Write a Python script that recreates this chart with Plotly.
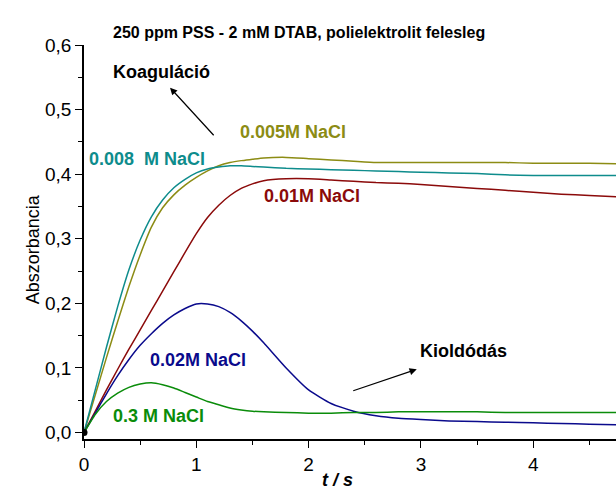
import plotly.graph_objects as go

# time axis (s)
t = [0, 0.1, 0.2, 0.3, 0.4, 0.5, 0.6, 0.7, 0.8, 0.9, 1.0, 1.1, 1.2, 1.3, 1.4, 1.5, 1.6,
     1.8, 2.0, 2.2, 2.4, 2.6, 2.8, 3.0, 3.25, 3.5, 3.75, 4.0, 4.25, 4.5, 4.75]

nacl_0005 = [0, 0.058, 0.116, 0.172, 0.226, 0.275, 0.318, 0.348, 0.368, 0.383, 0.395, 0.405,
             0.413, 0.418, 0.421, 0.423, 0.425, 0.426, 0.424, 0.422, 0.42, 0.418, 0.418,
             0.418, 0.418, 0.418, 0.418, 0.417, 0.417, 0.417, 0.416]
nacl_0008 = [0, 0.066, 0.132, 0.195, 0.252, 0.298, 0.334, 0.36, 0.379, 0.392, 0.402, 0.408,
             0.411, 0.413, 0.413, 0.412, 0.411, 0.409, 0.408, 0.407, 0.406, 0.405, 0.404,
             0.403, 0.402, 0.401, 0.399, 0.398, 0.398, 0.398, 0.398]
nacl_001 = [0, 0.033, 0.066, 0.098, 0.129, 0.159, 0.189, 0.219, 0.249, 0.279, 0.308, 0.333,
            0.352, 0.367, 0.378, 0.385, 0.39, 0.393, 0.393, 0.391, 0.389, 0.387, 0.386,
            0.384, 0.381, 0.378, 0.375, 0.372, 0.369, 0.367, 0.365]
nacl_002 = [0, 0.03, 0.06, 0.088, 0.113, 0.135, 0.153, 0.169, 0.182, 0.192, 0.199, 0.199,
            0.195, 0.186, 0.173, 0.157, 0.139, 0.1, 0.066, 0.045, 0.033, 0.026, 0.022,
            0.02, 0.018, 0.017, 0.016, 0.015, 0.014, 0.013, 0.012]
nacl_03 = [0, 0.028, 0.048, 0.061, 0.07, 0.075, 0.077, 0.074, 0.069, 0.062, 0.055, 0.048,
           0.043, 0.038, 0.035, 0.033, 0.032, 0.031, 0.03, 0.03, 0.031, 0.031, 0.032,
           0.032, 0.032, 0.032, 0.031, 0.031, 0.031, 0.031, 0.031]

series = [
    ("0.005M NaCl", nacl_0005, "#8C8C14"),
    ("0.008  M NaCl", nacl_0008, "#0E8C8C"),
    ("0.01M NaCl", nacl_001, "#8B0A0A"),
    ("0.02M NaCl", nacl_002, "#0A0A8C"),
    ("0.3 M NaCl", nacl_03, "#0A8C0A"),
]

# label positions (data coords)
labels = [
    ("0.005M NaCl", 1.86, 0.465, "#8C8C14"),
    ("0.008  M NaCl", 0.564, 0.424, "#0E8C8C"),
    ("0.01M NaCl", 2.028, 0.366, "#8B0A0A"),
    ("0.02M NaCl", 1.015, 0.112, "#0A0A8C"),
    ("0.3 M NaCl", 0.663, 0.025, "#0A8C0A"),
    ("Koaguláció", 0.688, 0.558, "black"),
    ("Kioldódás", 3.375, 0.127, "black"),
]
arrows = [  # head x, head y, tail x, tail y
    (0.766, 0.534, 1.167, 0.458),
    (2.963, 0.098, 2.384, 0.064),
]

FONT = "Arial, Liberation Sans, sans-serif"

fig = go.Figure()
for name, ys, col in series:
    fig.add_trace(go.Scatter(x=t, y=ys, mode="lines", name=name,
                             line=dict(color=col, width=1.5, shape="spline", smoothing=0.5),
                             showlegend=False))
fig.add_trace(go.Scatter(x=[t[0]], y=[nacl_0005[0]], mode="markers",
                         marker=dict(color="black", size=7), showlegend=False))

ann = []
for txt, x, y, col in labels:
    ann.append(dict(x=x, y=y, xref="x", yref="y", text=txt, showarrow=False,
                    font=dict(family=FONT, size=18, color=col, weight="bold")))
for hx, hy, tx, ty in arrows:
    ann.append(dict(x=hx, y=hy, ax=tx, ay=ty, xref="x", yref="y", axref="x", ayref="y",
                    text="", showarrow=True, arrowhead=2, arrowsize=1.2, arrowwidth=1.2,
                    arrowcolor="black"))
ann.append(dict(x=0.404, y=1.0576, xref="paper", yref="paper", showarrow=False,
                text="250 ppm PSS - 2 mM DTAB, polielektrolit felesleg",
                font=dict(family=FONT, size=16, color="black", weight="bold")))
ann.append(dict(x=0.4756, y=-0.134, xref="paper", yref="paper", showarrow=False,
                text="<i>t / s</i>",
                font=dict(family=FONT, size=18, color="black", weight="bold")))
ann.append(dict(x=-0.118, y=0.482, xref="paper", yref="paper", showarrow=False,
                text="Abszorbancia", textangle=-90,
                font=dict(family=FONT, size=18, color="black")))

fig.update_layout(
    width=616, height=501,
    margin=dict(l=84, r=0, t=45, b=62),
    paper_bgcolor="white", plot_bgcolor="white",
    separators=",.",
    annotations=ann,
    xaxis=dict(range=[0, 4.737], tickmode="linear", tick0=0, dtick=1,
               ticks="outside", ticklen=7, tickwidth=1.2, tickcolor="black",
               showline=True, linecolor="black", linewidth=1.5, showgrid=False,
               zeroline=False, tickfont=dict(family=FONT, size=19, color="black"),
               minor=dict(ticks="outside", ticklen=4, tickwidth=1.2, tickcolor="black",
                          dtick=0.5, showgrid=False)),
    yaxis=dict(range=[-0.01, 0.6], tickmode="linear", tick0=0, dtick=0.1,
               tickformat=".1f",
               ticks="outside", ticklen=7, tickwidth=1.2, tickcolor="black",
               showline=True, linecolor="black", linewidth=1.5, showgrid=False,
               zeroline=False, tickfont=dict(family=FONT, size=19, color="black"),
               minor=dict(ticks="outside", ticklen=4, tickwidth=1.2, tickcolor="black",
                          dtick=0.05, showgrid=False)),
)

fig.write_html("out.html")
